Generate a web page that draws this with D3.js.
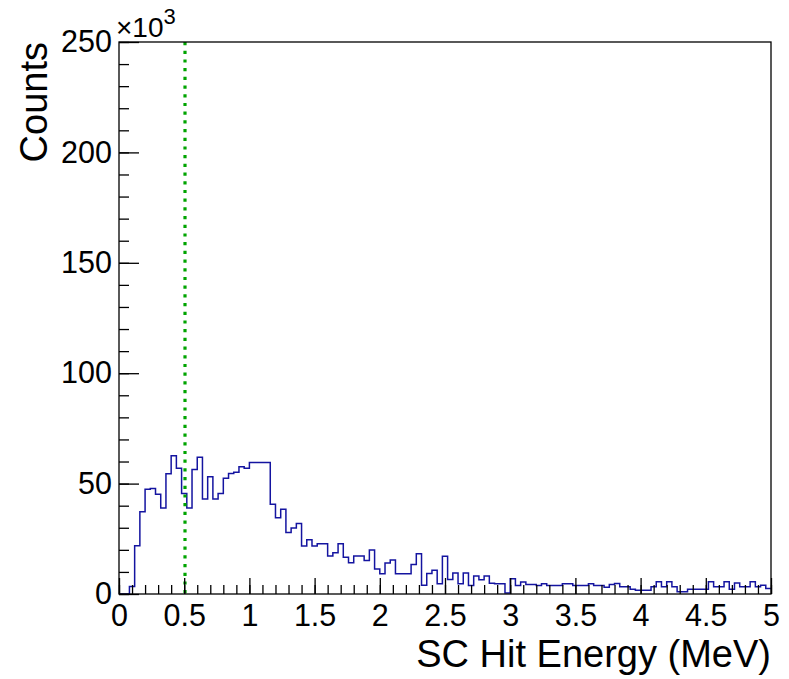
<!DOCTYPE html>
<html>
<head>
<meta charset="utf-8">
<script src="https://cdn.jsdelivr.net/npm/d3@7"></script>
<style>
  html, body { margin: 0; padding: 0; background: #fff; }
  svg { display: block; }
  text { font-family: "Liberation Sans", Arial, Helvetica, sans-serif; fill: #000; }
</style>
</head>
<body>
<svg id="chart" width="789" height="679"></svg>
<script>
// ---- data (counts in units of 10^3, bins of 0.04 MeV from 0 to 5 MeV) ----
const binLow = 0;
const binHigh = 5;
const binCounts = [
  0, 0, 3.4, 21.9, 37.2, 47.4, 47.8, 45.2, 39.0, 54.5,
  62.6, 56.9, 45.5, 39.0, 56.4, 61.9, 43.0, 53.1, 43.0, 45.5,
  52.4, 54.6, 55.1, 57.6, 56.9, 59.6, 59.6, 59.6, 59.6, 40.6,
  34.5, 38.4, 27.8, 29.9, 31.9, 21.7, 24.6, 21.7, 22.8, 22.8,
  17.2, 18.7, 22.8, 16.7, 14.2, 17.2, 17.2, 15.2, 19.9, 11.3,
  9.2, 14.0, 15.4, 9.2, 9.2, 9.2, 13.4, 18.2, 4.0, 9.3,
  10.7, 4.6, 17.1, 6.6, 9.5, 4.6, 9.5, 3.9, 8.1, 6.4,
  8.1, 4.9, 4.6, 4.6, 0.5, 6.9, 3.9, 5.4, 4.3, 4.3,
  3.9, 4.6, 3.9, 3.9, 3.9, 4.6, 4.6, 3.9, 3.9, 3.9,
  4.6, 3.9, 3.9, 3.1, 4.3, 4.8, 3.3, 3.3, 2.2, 1.7,
  1.7, 1.7, 3.3, 5.5, 3.3, 5.5, 3.3, 1.0, 1.0, 2.2,
  2.2, 2.2, 2.2, 5.5, 3.3, 3.3, 5.5, 2.2, 5.0, 3.3,
  3.3, 5.5, 3.3, 4.0, 2.5
];
const xMajorTicks = [0, 0.5, 1, 1.5, 2, 2.5, 3, 3.5, 4, 4.5, 5];
const xMinorTicks = d3.range(0, 51).map(d => d / 10);
const yMajorTicks = [0, 50, 100, 150, 200, 250];
const yMinorTicks = d3.range(0, 26).map(d => d * 10);
const cutValue = [0.5];
const xTitle = "SC Hit Energy (MeV)";
const yTitle = "Counts";

// ---- layout ----
const svg = d3.select("#chart");
const L = 119, R = 771, T = 42, B = 594;

const x = d3.scaleLinear().domain([binLow, binHigh]).range([L, R]);
const y = d3.scaleLinear().domain([0, 250]).range([B, T]);

const binW = (binHigh - binLow) / binCounts.length;

// histogram path
const pts = binCounts.map((v, i) => [binLow + i * binW, v]);
pts.push([binHigh, binCounts[binCounts.length - 1]]);
const line = d3.line()
  .x(d => x(d[0]))
  .y(d => y(d[1]))
  .curve(d3.curveStepAfter);

svg.append("path")
  .datum(pts)
  .attr("d", line)
  .attr("fill", "none")
  .attr("stroke", "#1414a0")
  .attr("stroke-width", 1.5);

// cut line
svg.selectAll(".cut").data(cutValue).enter().append("line")
  .attr("class", "cut")
  .attr("x1", d => x(d) + 0.8).attr("x2", d => x(d) + 0.8)
  .attr("y1", y(250)).attr("y2", y(0))
  .attr("stroke", "#00a400")
  .attr("stroke-width", 3.2)
  .attr("stroke-dasharray", "3.2,5.5");

// axes
const fmt = d3.format("~g");
const gxMinor = svg.append("g").attr("transform", `translate(0,${B})`)
  .call(d3.axisBottom(x).tickValues(xMinorTicks).tickSize(-9).tickFormat(""));
const gxMajor = svg.append("g").attr("transform", `translate(0,${B})`)
  .call(d3.axisBottom(x).tickValues(xMajorTicks).tickSize(-16).tickPadding(10).tickFormat(fmt));
const gyMinor = svg.append("g").attr("transform", `translate(${L},0)`)
  .call(d3.axisLeft(y).tickValues(yMinorTicks).tickSize(-10).tickFormat(""));
const gyMajor = svg.append("g").attr("transform", `translate(${L},0)`)
  .call(d3.axisLeft(y).tickValues(yMajorTicks).tickSize(-20).tickPadding(7).tickFormat(fmt));

[gxMinor, gxMajor, gyMinor, gyMajor].forEach(g => {
  g.select(".domain").remove();
  g.selectAll(".tick line").attr("stroke", "#000").attr("stroke-width", 1.3);
  g.selectAll("text").attr("font-size", 30.5).attr("fill", "#000")
    .style("font-family", "'Liberation Sans', Arial, Helvetica, sans-serif");
});

// frame
svg.append("rect")
  .attr("x", L).attr("y", T)
  .attr("width", R - L).attr("height", B - T)
  .attr("fill", "none").attr("stroke", "#000").attr("stroke-width", 1.3);

// exponent label
const expo = svg.append("text").attr("x", 116).attr("y", 37).attr("font-size", 28);
expo.append("tspan").text("\u00d710");
expo.append("tspan").attr("dy", -13).attr("font-size", 22).text("3");

// titles
svg.append("text")
  .attr("x", R).attr("y", 667)
  .attr("text-anchor", "end")
  .attr("font-size", 38)
  .text(xTitle);

svg.append("text")
  .attr("transform", `translate(47,${T}) rotate(-90)`)
  .attr("text-anchor", "end")
  .attr("font-size", 38)
  .text(yTitle);
</script>
</body>
</html>
